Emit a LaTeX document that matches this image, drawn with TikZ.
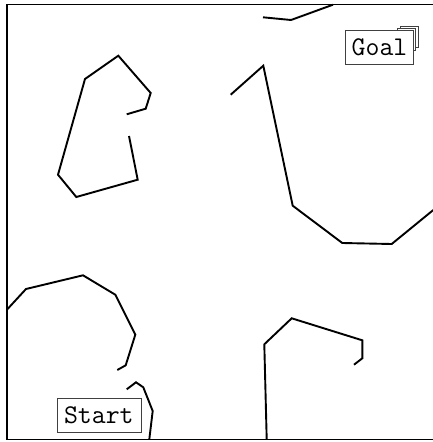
\documentclass[tikz,border=0pt]{standalone}
\tikzset{
  obst/.style={line width=1.9pt, line join=miter, black},
  frame/.style={line width=1.6pt, black},
  label box/.style={draw=black!75, line width=0.6pt, fill=white, font=\ttfamily\fontsize{27}{27}\selectfont, inner xsep=2pt, inner ysep=2pt, minimum height=34pt},
  shadowbox/.style={draw=black!75, line width=0.6pt, fill=white}
}
\begin{document}
\begin{tikzpicture}[x=1pt,y=-1pt]
\useasboundingbox (0,0) rectangle (433,442);
% outer frame
\draw[frame] (433,4.5) -- (7,4.5) -- (7,439.5) -- (433,439.5);
% obstacles
\draw[obst] (263,17.3) -- (291,20) -- (333,4.7);
\draw[obst] (126.7,114.3) -- (145.7,108.7) -- (150.7,93) -- (118.3,55.7) -- (85,79) -- (58,174.7) -- (76.3,197) -- (137.7,179.7) -- (129,136);
\draw[obst] (230.7,94.7) -- (263.3,65.7) -- (292.7,205.7) -- (342.3,243) -- (391.7,244) -- (433.3,210);
\draw[obst] (7.3,309.3) -- (26,289) -- (83,275.3) -- (115.3,294.7) -- (135.3,334.7) -- (125.7,365.3) -- (117.3,370);
\draw[obst] (126.7,389.3) -- (136,382.3) -- (143.3,387.3) -- (152.7,411) -- (149.3,439.3);
\draw[obst] (266.7,439.3) -- (264.3,344.3) -- (291.7,318.3) -- (362.3,340.3) -- (362.3,358.3) -- (354,364.7);
% goal with stacked shadow boxes
\draw[shadowbox] (400,26) rectangle (418.3,47);
\draw[shadowbox] (397,28.3) rectangle (415.7,50);
\node[label box, minimum width=68pt] (goal) at (379.5,47.2) {Goal};
% start
\node[label box, minimum width=84pt] (start) at (98.8,415) {Start};
\end{tikzpicture}
\end{document}
